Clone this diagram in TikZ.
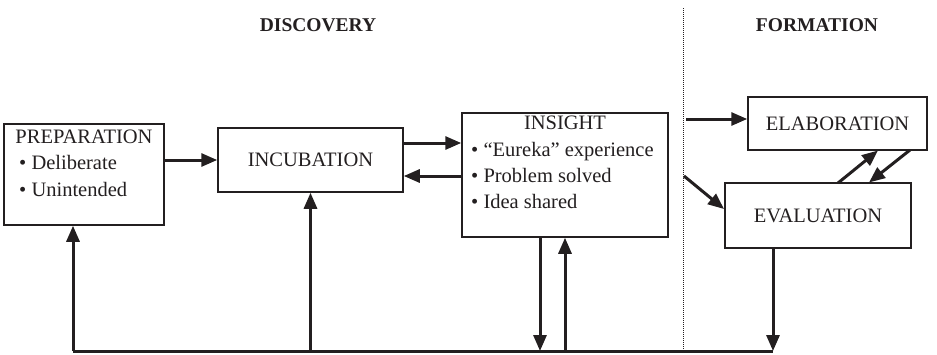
\documentclass[tikz,border=0pt]{standalone}
\usepackage{fontspec}
\setmainfont{Liberation Serif}
\usetikzlibrary{arrows.meta,calc}
\definecolor{ink}{HTML}{231F20}
\begin{document}
\begin{tikzpicture}[x=1pt,y=-1pt,
  box/.style={draw=ink, line width=1.5pt, inner sep=0pt},
  txt/.style={font=\fontsize{20.5}{26}\selectfont, text=ink, inner sep=0pt},
  head/.style={font=\fontsize{19.5}{22}\selectfont\bfseries, text=ink, inner sep=0pt},
  arr/.style={draw=ink, line width=3pt, -{Triangle[length=16pt,width=13pt]}},
  ln/.style={draw=ink, line width=3pt}]
\useasboundingbox (0,0) rectangle (937,354);

% headings and divider
\node[head] (hd) at (318,25) {DISCOVERY};
\node[head] (hf) at (817,25) {FORMATION};
\coordinate (dt) at (683,8);
\coordinate (db) at (683,352);
\draw[ink, line width=1pt, densely dotted] (dt) -- (db);

% boxes
\node[box, minimum width=160pt, minimum height=101pt] (prep) at (84,174.5) {};
\node[txt, anchor=base] (prept) at (84,143) {PREPARATION};
\node[txt, anchor=base west] (prepa) at (19,169) {\textbullet\ Deliberate};
\node[txt, anchor=base west] (prepb) at (19,196) {\textbullet\ Unintended};

\node[box, minimum width=185pt, minimum height=64pt, txt] (inc) at (310.5,160) {INCUBATION};

\node[box, minimum width=206pt, minimum height=124pt] (ins) at (565,175) {};
\node[txt, anchor=base] (inst) at (565,129) {INSIGHT};
\node[txt, anchor=base west] (insa) at (471,156) {\textbullet\ “Eureka” experience};
\node[txt, anchor=base west] (insb) at (471,182) {\textbullet\ Problem solved};
\node[txt, anchor=base west] (insc) at (471,208) {\textbullet\ Idea shared};

\node[box, minimum width=179pt, minimum height=53pt, txt] (elab) at (837.5,123.5) {ELABORATION};
\node[box, minimum width=186pt, minimum height=65pt, txt] (eval) at (818,215.5) {EVALUATION};

% feedback line
\coordinate (bl) at (73,351);
\coordinate (br) at (773,351);
\draw[ln] (bl) -- (br);

% connectors
\draw[arr] (prep.east |- inc.west) -- (inc.west);
\draw[arr] ([yshift=17pt]inc.east) -- ([yshift=17pt]inc.east -| ins.west);
\draw[arr] ([yshift=-16pt]inc.east -| ins.west) -- ([yshift=-16pt]inc.east);

\draw[arr] (bl) -- (bl |- prep.south);
\draw[arr] (inc.south |- bl) -- (inc.south);
\draw[arr] ([xshift=-25pt]ins.south) -- ([xshift=-25pt]ins.south |- bl);
\draw[arr] (ins.south |- bl) -- (ins.south);
\draw[arr] (eval.south -| br) -- (br);

\coordinate (fa) at (686,119);
\coordinate (fb) at (684,176);
\draw[arr] (fa) -- (fa -| elab.west);
\draw[arr] (fb) -- (724,209);
\draw[arr] (838,183) -- (878,150.5);
\draw[arr] (910,150) -- (869,182.5);
\end{tikzpicture}
\end{document}
